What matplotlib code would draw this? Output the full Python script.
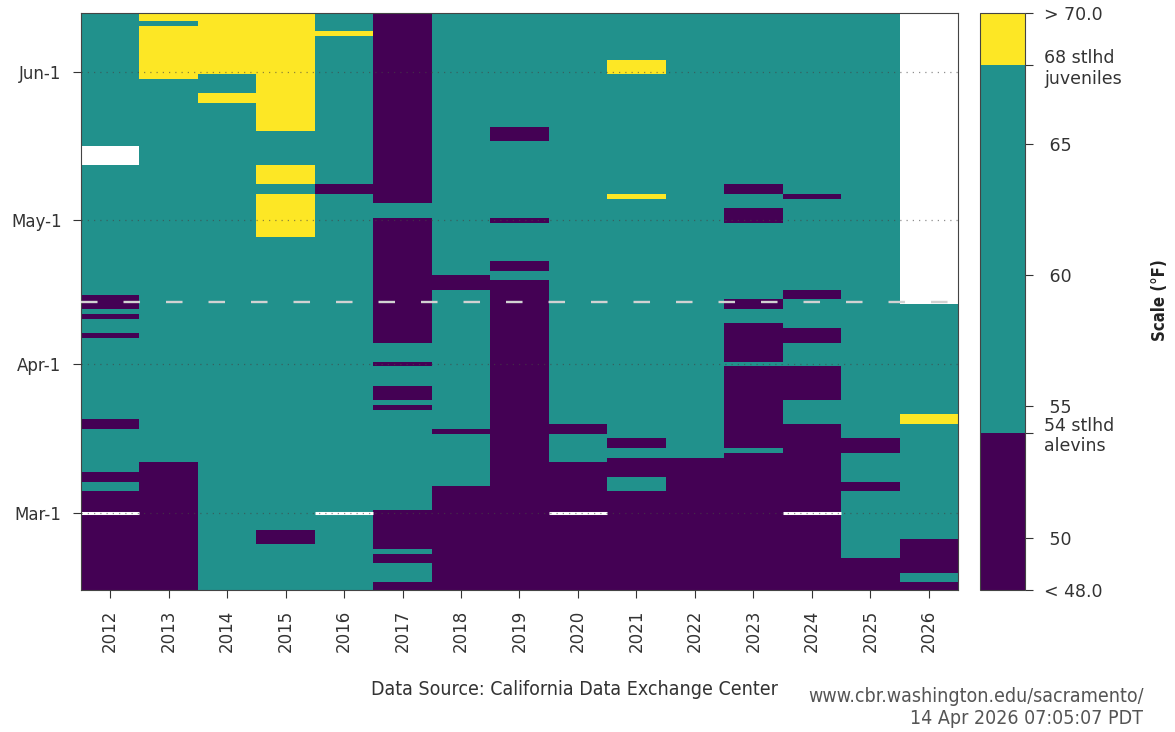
import numpy as np
import matplotlib
matplotlib.use("Agg")
import matplotlib.pyplot as plt
from matplotlib.colors import ListedColormap, BoundaryNorm
from matplotlib.cm import ScalarMappable


years = list(range(2012, 2027))
first_day, last_day = -16, 104   # days after Mar-1 (Feb-13 .. Jun-13)

# bands: L below 54 F, M 54-68 F, H above 68 F, N no data
band_temp = {"L": 51.0, "M": 61.0, "H": 69.0, "N": np.nan}

# (first day of run, band) -- a run lasts until the next one starts
runs_2012 = [(-16, "L"), (5, "M"), (7, "L"), (9, "M"), (18, "L"), (20, "M"), (37, "L"), (38, "M"),
             (41, "L"), (42, "M"), (43, "L"), (46, "M"), (73, "N"), (77, "M")]
runs_2013 = [(-16, "L"), (11, "M"), (91, "H"), (102, "M"), (103, "H")]
runs_2014 = [(-16, "M"), (86, "H"), (88, "M"), (92, "H")]
runs_2015 = [(-16, "M"), (-6, "L"), (-3, "M"), (58, "H"), (67, "M"), (69, "H"), (73, "M"), (80, "H")]
runs_2016 = [(-16, "M"), (67, "L"), (69, "M"), (100, "H"), (101, "M")]
runs_2017 = [(-16, "L"), (-14, "M"), (-10, "L"), (-8, "M"), (-7, "L"), (1, "M"), (22, "L"), (23, "M"),
             (24, "L"), (27, "M"), (31, "L"), (32, "M"), (36, "L"), (62, "M"), (65, "L")]
runs_2018 = [(-16, "L"), (6, "M"), (17, "L"), (18, "M"), (47, "L"), (50, "M")]
runs_2019 = [(-16, "L"), (49, "M"), (51, "L"), (53, "M"), (61, "L"), (62, "M"), (78, "L"), (81, "M")]
runs_2020 = [(-16, "L"), (11, "M"), (17, "L"), (19, "M")]
runs_2021 = [(-16, "L"), (5, "M"), (8, "L"), (12, "M"), (14, "L"), (16, "M"), (66, "H"), (67, "M"),
             (92, "H"), (95, "M")]
runs_2022 = [(-16, "L"), (12, "M")]
runs_2023 = [(-16, "L"), (13, "M"), (14, "L"), (31, "M"), (32, "L"), (40, "M"), (43, "L"), (45, "M"),
             (61, "L"), (64, "M"), (67, "L"), (69, "M")]
runs_2024 = [(-16, "L"), (19, "M"), (24, "L"), (31, "M"), (36, "L"), (39, "M"), (45, "L"), (47, "M"),
             (66, "L"), (67, "M")]
runs_2025 = [(-16, "L"), (-9, "M"), (5, "L"), (7, "M"), (13, "L"), (16, "M")]
runs_2026 = [(-16, "L"), (-14, "M"), (-12, "L"), (-5, "M"), (19, "H"), (21, "M"), (44, "N")]

runs = [runs_2012, runs_2013, runs_2014, runs_2015, runs_2016, runs_2017, runs_2018, runs_2019,
        runs_2020, runs_2021, runs_2022, runs_2023, runs_2024, runs_2025, runs_2026]

leap_years = [2012, 2016, 2020, 2024]
today = 44   # Apr-14

tick_days = [0, 31, 61, 92]
tick_names = ["Mar-1", "Apr-1", "May-1", "Jun-1"]

cbar_bounds = [48, 54, 68, 70]
cbar_ticks = [48, 50, 54, 55, 60, 65, 68, 70]
cbar_labels = ["< 48.0", " 50", "54 stlhd\nalevins", " 55", " 60", " 65",
               "68 stlhd\njuveniles", "> 70.0"]


days = np.arange(first_day, last_day + 1)
grid = np.full((len(days), len(years)), np.nan)
for j, yr_runs in enumerate(runs):
    for k, (start, band) in enumerate(yr_runs):
        end = yr_runs[k + 1][0] if k + 1 < len(yr_runs) else last_day + 1
        grid[start - first_day:end - first_day, j] = band_temp[band]

cmap = ListedColormap(["#440154", "#21918c", "#fde725"])
cmap.set_bad("white")
norm = BoundaryNorm(cbar_bounds, cmap.N)

fig = plt.figure(figsize=(11.75, 7.32), dpi=100)
ax = fig.add_axes([0.0689, 0.194, 0.7464, 0.7882])
cax = fig.add_axes([0.834, 0.194, 0.0383, 0.7882])

xe = np.arange(len(years) + 1) - 0.5
ye = np.arange(first_day, last_day + 2) - 0.5
ax.pcolormesh(xe, ye, np.ma.masked_invalid(grid), cmap=cmap, norm=norm, zorder=1)

for yr in leap_years:
    j = years.index(yr)
    ax.hlines(0, j - 0.5, j + 0.5, color="white", lw=2.2, zorder=2)

ax.axhline(today, color="#d2d2d2", lw=1.7, dashes=(7, 11), zorder=4)

ax.set_yticks(tick_days)
ax.set_yticklabels(tick_names)
ax.set_xticks(range(len(years)))
ax.set_xticklabels([str(y) for y in years], rotation=90)
ax.set_xlim(-0.5, len(years) - 0.5)
ax.set_ylim(-16.1, 104.2)
ax.yaxis.grid(True, linestyle=(0, (1, 4)), color="#444444", alpha=0.6, lw=0.9, zorder=3)
ax.set_axisbelow(False)
ax.tick_params(direction="out", length=6, pad=8, color="#333333", labelsize=12, labelcolor="#333333")
for s in ax.spines.values():
    s.set_color("#444444")

cb = fig.colorbar(ScalarMappable(norm=norm, cmap=cmap), cax=cax, spacing="proportional")
cb.set_ticks(cbar_ticks)
cb.set_ticklabels(cbar_labels)
cb.ax.tick_params(direction="out", length=6, pad=8, color="#333333", labelsize=12.5,
                  labelcolor="#333333")
cb.ax.minorticks_off()
cb.outline.set_edgecolor("#444444")

fig.text(0.987, 0.59, "Scale (°F)", rotation=90, ha="center", va="center",
         fontsize=12, fontweight="bold", fontstretch="condensed", color="#222222")
fig.text(0.489, 0.0587, "Data Source: California Data Exchange Center", ha="center", va="center",
         fontsize=14, fontstretch="condensed", color="#333333")
fig.text(0.973, 0.033, "www.cbr.washington.edu/sacramento/\n14 Apr 2026 07:05:07 PDT",
         ha="right", va="center", fontsize=14, fontstretch="condensed", color="#555555",
         linespacing=1.2)

fig.savefig("out.png", dpi=100)
